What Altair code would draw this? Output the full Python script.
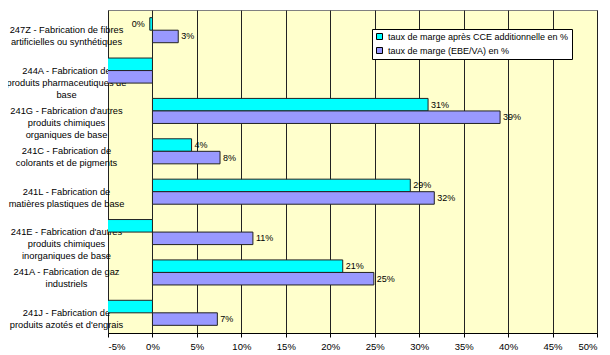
import altair as alt
import pandas as pd

categories = [
    "247Z - Fabrication de fibres|artificielles ou synthétiques",
    "244A - Fabrication de|produits pharmaceutiques de|base",
    "241G - Fabrication d'autres|produits chimiques|organiques de base",
    "241C - Fabrication de|colorants et de pigments",
    "241L - Fabrication de|matières plastiques de base",
    "241E - Fabrication d'autres|produits chimiques|inorganiques de base",
    "241A - Fabrication de gaz|industriels",
    "241J - Fabrication de|produits azotés et d'engrais",
]
series = ["taux de marge après CCE additionnelle en %", "taux de marge (EBE/VA) en %"]
cce = [-0.3, -9.0, 31.0, 4.4, 29.0, -9.0, 21.4, -9.0]
ebe = [2.9, -9.0, 39.1, 7.6, 31.7, 11.3, 24.9, 7.3]
ticks = [-5, 0, 5, 10, 15, 20, 25, 30, 35, 40, 45, 50]

rows = []
for c, a, b in zip(categories, cce, ebe):
    rows.append({"cat": c, "serie": series[0], "val": a})
    rows.append({"cat": c, "serie": series[1], "val": b})
df = pd.DataFrame(rows)

FONT = "Liberation Sans"

y = alt.Y(
    "cat:N", sort=categories,
    scale=alt.Scale(paddingInner=0.38, paddingOuter=0.19),
    axis=alt.Axis(title=None, labelExpr="split(datum.label, '|')", labelAlign="center",
                  labelPadding=42, ticks=False, domain=False, labelFont=FONT,
                  labelFontSize=9.3, labelColor="black", labelLimit=300, labelLineHeight=12),
)
x = alt.X(
    "val:Q",
    scale=alt.Scale(domain=[-5, 50], nice=False, zero=False),
    axis=alt.Axis(values=ticks, labelExpr="datum.value + '%'", title=None, grid=True,
                  gridColor="#222222", gridOpacity=1, tickSize=4, tickColor="black",
                  domainColor="black", labelFont=FONT, labelFontSize=9.5,
                  labelColor="black", labelPadding=4),
)
yoff = alt.YOffset("serie:N", sort=series)
color = alt.Color(
    "serie:N", sort=series,
    scale=alt.Scale(domain=series, range=["#00FFFF", "#9999FF"]),
    legend=alt.Legend(orient="none", legendX=264, legendY=19, title=None,
                      fillColor="white", strokeColor="black", padding=3,
                      symbolType="square", symbolSize=36, symbolStrokeColor="black",
                      symbolStrokeWidth=1, labelFont=FONT, labelFontSize=9,
                      labelColor="black", rowPadding=3, labelLimit=300, symbolOpacity=1),
)

base = alt.Chart(df)
bars = base.mark_bar(clip=True, stroke="#222222", strokeWidth=1, opacity=1).encode(
    x=x, y=y, yOffset=yoff, color=color
)
txt_pos = base.transform_filter("datum.val >= 0").transform_calculate(
    lab="format(datum.val, '.0f') + '%'"
).mark_text(align="left", baseline="middle", dx=3, font=FONT, fontSize=9, color="black").encode(
    x="val:Q", y=alt.Y("cat:N", sort=categories), yOffset=yoff, text="lab:N"
)
txt_neg = base.transform_filter("datum.val < 0 && datum.val > -5").transform_calculate(
    lab="format(datum.val, '.0f') + '%'"
).mark_text(align="right", baseline="middle", dx=-5, font=FONT, fontSize=9, color="black").encode(
    x="val:Q", y=alt.Y("cat:N", sort=categories), yOffset=yoff, text="lab:N"
)

chart = alt.LayerChart(
    layer=[bars, txt_pos, txt_neg],
    view=alt.ViewBackground(fill="#FFFFCC", stroke="#808080"),
).properties(
    width=489, height=323,
    autosize=alt.AutoSizeParams(type="none"),
    padding={"left": 100, "top": 2, "right": 5, "bottom": 30},
).configure(background="white")

chart.save("out.html", embed_options={"renderer": "svg", "actions": False})
